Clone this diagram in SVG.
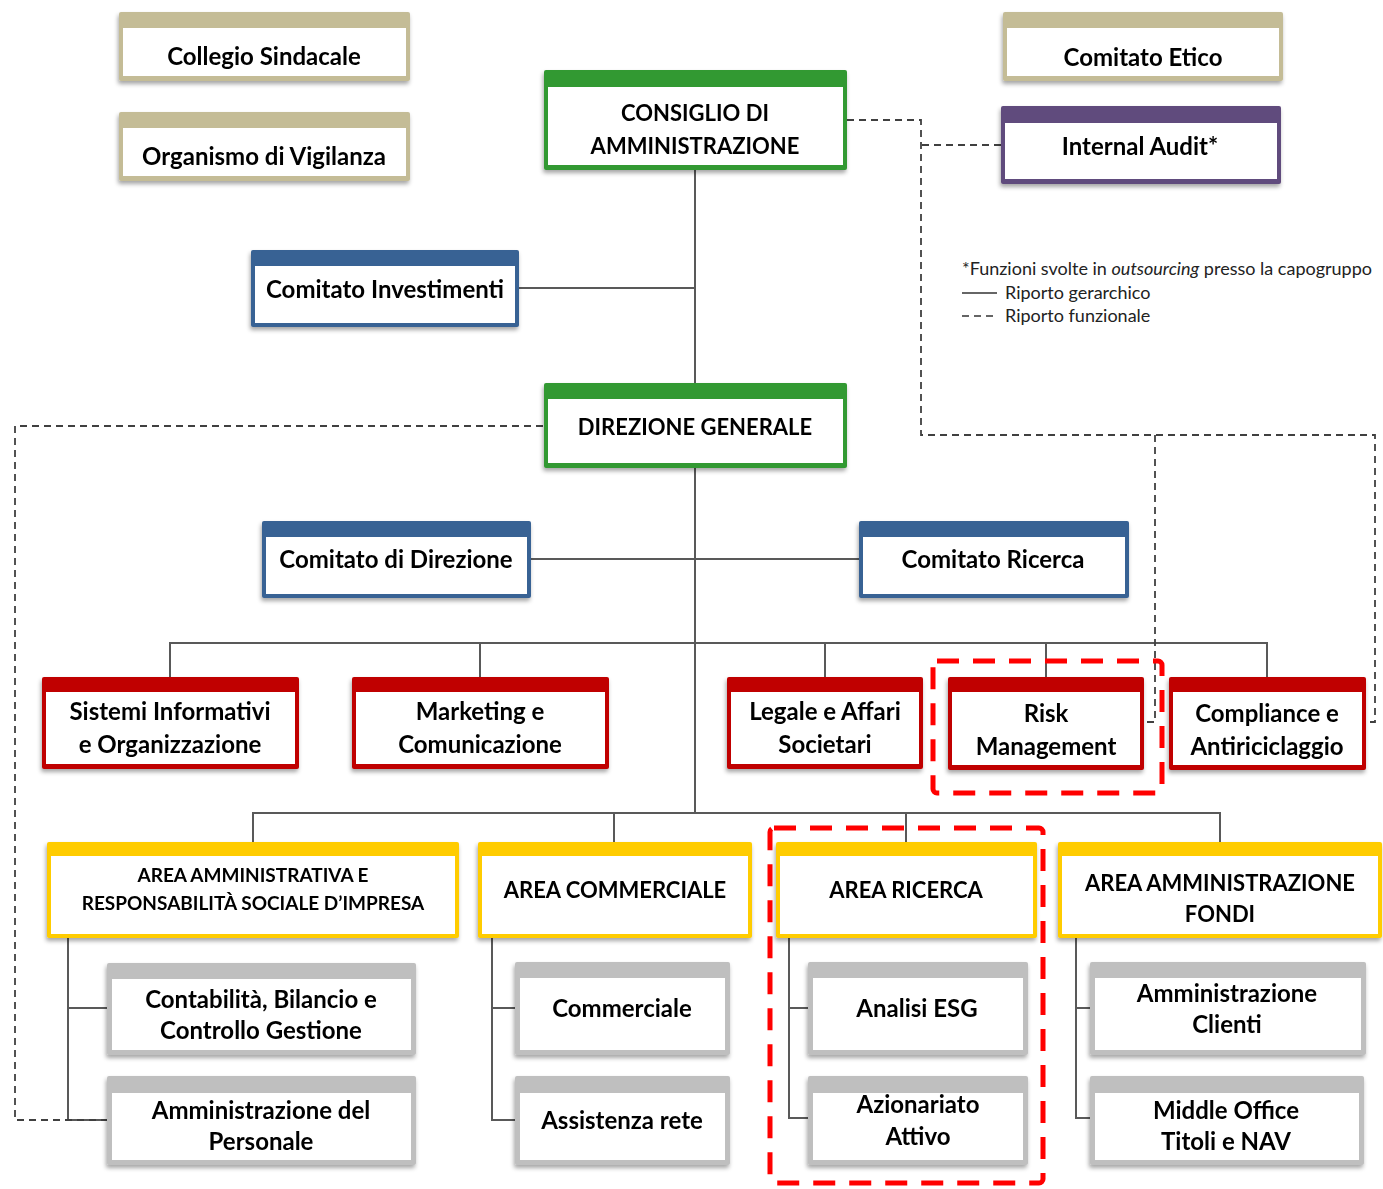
<svg xmlns="http://www.w3.org/2000/svg" width="1383" height="1189" viewBox="0 0 1383 1189">
<defs>
<filter id="sh" x="-10%" y="-10%" width="120%" height="130%">
<feDropShadow dx="-1" dy="3" stdDeviation="2" flood-color="#000" flood-opacity="0.35"/>
</filter>
<style>
.t{font-family:Lato,"Open Sans","Liberation Sans",sans-serif;font-weight:bold;font-size:24px;fill:#000;text-anchor:middle;dominant-baseline:central}
.c{font-size:22px}
.s{font-size:19px}
.w{fill:#fff}
.tan{fill:#C4BC96}.grn{fill:#339933}.blu{fill:#386294}.pur{fill:#614B7D}.red{fill:#C00000}.yel{fill:#FFCC00}.gry{fill:#BFBFBF}
.ln{stroke:#595959;stroke-width:2;fill:none}
.dl{stroke:#404040;stroke-width:1.8;fill:none;stroke-dasharray:7 5}
.hl{stroke:#FF0000;stroke-width:5;fill:none;stroke-dasharray:22 14}
.lg{font-family:Lato,"Open Sans","Liberation Sans",sans-serif;font-size:18px;fill:#222}
</style>
</defs>

<g id="connectors">
<path class="ln" d="M695 170V812"/>
<path class="ln" d="M519 288H695"/>
<path class="ln" d="M531 559H859"/>
<path class="ln" d="M170 677V643H1267V677M480 643V677M825 643V677M1046 643V677"/>
<path class="ln" d="M253 842V813H1220V842M614 813V842M906 813V842"/>
<path class="ln" d="M68 938V1120H107M68 1008H107"/>
<path class="ln" d="M492 938V1120H515M492 1008H515"/>
<path class="ln" d="M789 938V1118H808M789 1008H808"/>
<path class="ln" d="M1076 938V1118H1090M1076 1008H1090"/>
<path class="dl" d="M847 120H921V435H1375V722H1366"/>
<path class="dl" d="M1001 145H922"/>
<path class="dl" d="M1155 435V722H1144"/>
<path class="dl" d="M543 426H15V1120H107"/>
</g>

<g id="collegio" filter="url(#sh)"><rect class="tan" x="119" y="12" width="291" height="69" rx="2"/><rect class="w" x="123" y="28" width="283" height="48"/><text class="t" x="264" y="55">Collegio Sindacale</text></g>
<g id="organismo" filter="url(#sh)"><rect class="tan" x="119" y="112" width="291" height="69" rx="2"/><rect class="w" x="123" y="128" width="283" height="48"/><text class="t" x="264" y="155">Organismo di Vigilanza</text></g>
<g id="etico" filter="url(#sh)"><rect class="tan" x="1003" y="12" width="280" height="69" rx="2"/><rect class="w" x="1007" y="28" width="272" height="48"/><text class="t" x="1143" y="56">Comitato Etico</text></g>
<g id="audit" filter="url(#sh)"><rect class="pur" x="1001" y="106" width="280" height="78" rx="2"/><rect class="w" x="1005" y="123" width="272" height="56"/><text class="t" x="1140" y="145">Internal Audit*</text></g>
<g id="cda" filter="url(#sh)"><rect class="grn" x="544" y="70" width="303" height="100" rx="2"/><rect class="w" x="548" y="87" width="295" height="78"/><text class="t c" x="695" y="112">CONSIGLIO DI</text><text class="t c" x="695" y="145">AMMINISTRAZIONE</text></g>
<g id="investimenti" filter="url(#sh)"><rect class="blu" x="251" y="250" width="268" height="77" rx="2"/><rect class="w" x="255" y="266" width="260" height="57"/><text class="t" x="385" y="288">Comitato Investimenti</text></g>
<g id="dg" filter="url(#sh)"><rect class="grn" x="544" y="383" width="303" height="85" rx="2"/><rect class="w" x="548" y="399" width="295" height="64"/><text class="t c" x="695" y="426">DIREZIONE GENERALE</text></g>
<g id="direzione" filter="url(#sh)"><rect class="blu" x="262" y="521" width="269" height="77" rx="2"/><rect class="w" x="266" y="537" width="261" height="57"/><text class="t" x="396" y="558">Comitato di Direzione</text></g>
<g id="ricerca-com" filter="url(#sh)"><rect class="blu" x="859" y="521" width="270" height="77" rx="2"/><rect class="w" x="863" y="537" width="262" height="57"/><text class="t" x="993" y="558">Comitato Ricerca</text></g>

<g id="sistemi" filter="url(#sh)"><rect class="red" x="42" y="677" width="257" height="92" rx="2"/><rect class="w" x="46" y="692" width="249" height="72"/><text class="t" x="170" y="710">Sistemi Informativi</text><text class="t" x="170" y="743">e Organizzazione</text></g>
<g id="marketing" filter="url(#sh)"><rect class="red" x="352" y="677" width="257" height="92" rx="2"/><rect class="w" x="356" y="692" width="249" height="72"/><text class="t" x="480" y="710">Marketing e</text><text class="t" x="480" y="743">Comunicazione</text></g>
<g id="legale" filter="url(#sh)"><rect class="red" x="727" y="677" width="196" height="92" rx="2"/><rect class="w" x="731" y="692" width="188" height="72"/><text class="t" x="825" y="710">Legale e Affari</text><text class="t" x="825" y="743">Societari</text></g>
<g id="risk" filter="url(#sh)"><rect class="red" x="948" y="677" width="196" height="93" rx="2"/><rect class="w" x="952" y="692" width="188" height="73"/><text class="t" x="1046" y="712">Risk</text><text class="t" x="1046" y="745">Management</text></g>
<g id="compliance" filter="url(#sh)"><rect class="red" x="1169" y="677" width="197" height="93" rx="2"/><rect class="w" x="1173" y="692" width="189" height="73"/><text class="t" x="1267" y="712">Compliance e</text><text class="t" x="1267" y="745">Antiriciclaggio</text></g>

<g id="area-amm" filter="url(#sh)"><rect class="yel" x="47" y="842" width="412" height="96" rx="2"/><rect class="w" x="51" y="856" width="404" height="78"/><text class="t s" x="253" y="874">AREA AMMINISTRATIVA E</text><text class="t s" x="253" y="902">RESPONSABILITÀ SOCIALE D’IMPRESA</text></g>
<g id="area-comm" filter="url(#sh)"><rect class="yel" x="478" y="842" width="274" height="96" rx="2"/><rect class="w" x="482" y="856" width="266" height="78"/><text class="t c" x="615" y="889">AREA COMMERCIALE</text></g>
<g id="area-ric" filter="url(#sh)"><rect class="yel" x="776" y="842" width="261" height="96" rx="2"/><rect class="w" x="780" y="856" width="253" height="78"/><text class="t c" x="906" y="889">AREA RICERCA</text></g>
<g id="area-fondi" filter="url(#sh)"><rect class="yel" x="1058" y="842" width="324" height="96" rx="2"/><rect class="w" x="1062" y="856" width="316" height="78"/><text class="t c" x="1220" y="882">AREA AMMINISTRAZIONE</text><text class="t c" x="1220" y="913">FONDI</text></g>

<g id="contabilita" filter="url(#sh)"><rect class="gry" x="107" y="963" width="309" height="92" rx="2"/><rect class="w" x="112" y="979" width="299" height="71"/><text class="t" x="261" y="998">Contabilità, Bilancio e</text><text class="t" x="261" y="1029">Controllo Gestione</text></g>
<g id="personale" filter="url(#sh)"><rect class="gry" x="107" y="1076" width="309" height="89" rx="2"/><rect class="w" x="112" y="1093" width="299" height="67"/><text class="t" x="261" y="1109">Amministrazione del</text><text class="t" x="261" y="1140">Personale</text></g>
<g id="commerciale" filter="url(#sh)"><rect class="gry" x="515" y="962" width="215" height="93" rx="2"/><rect class="w" x="520" y="978" width="205" height="72"/><text class="t" x="622" y="1007">Commerciale</text></g>
<g id="assistenza" filter="url(#sh)"><rect class="gry" x="515" y="1076" width="215" height="89" rx="2"/><rect class="w" x="520" y="1093" width="205" height="67"/><text class="t" x="622" y="1119">Assistenza rete</text></g>
<g id="esg" filter="url(#sh)"><rect class="gry" x="808" y="962" width="220" height="93" rx="2"/><rect class="w" x="813" y="978" width="210" height="72"/><text class="t" x="917" y="1007">Analisi ESG</text></g>
<g id="azionariato" filter="url(#sh)"><rect class="gry" x="808" y="1076" width="220" height="89" rx="2"/><rect class="w" x="813" y="1093" width="210" height="67"/><text class="t" x="918" y="1103">Azionariato</text><text class="t" x="918" y="1135">Attivo</text></g>
<g id="clienti" filter="url(#sh)"><rect class="gry" x="1090" y="962" width="276" height="93" rx="2"/><rect class="w" x="1095" y="978" width="266" height="72"/><text class="t" x="1227" y="992">Amministrazione</text><text class="t" x="1227" y="1023">Clienti</text></g>
<g id="middle" filter="url(#sh)"><rect class="gry" x="1090" y="1076" width="274" height="89" rx="2"/><rect class="w" x="1095" y="1093" width="264" height="67"/><text class="t" x="1226" y="1109">Middle Office</text><text class="t" x="1226" y="1140">Titoli e NAV</text></g>

<g id="highlights">
<rect class="hl" x="933" y="661" width="229" height="132" rx="4"/>
<rect class="hl" x="770" y="828" width="273" height="355" rx="4"/>
</g>

<g id="legend">
<text class="lg" x="962" y="275">*Funzioni svolte in <tspan font-style="italic">outsourcing</tspan> presso la capogruppo</text>
<path d="M962 293H997" stroke="#333" stroke-width="1.5"/>
<text class="lg" x="1005" y="299">Riporto gerarchico</text>
<path d="M962 316H997" stroke="#333" stroke-width="1.5" stroke-dasharray="7 5"/>
<text class="lg" x="1005" y="322">Riporto funzionale</text>
</g>
</svg>
